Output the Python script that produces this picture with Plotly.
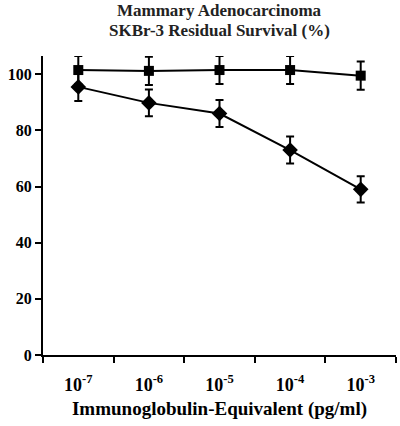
import plotly.graph_objects as go

categories = ["10<sup>-7</sup>", "10<sup>-6</sup>", "10<sup>-5</sup>", "10<sup>-4</sup>", "10<sup>-3</sup>"]
control_vals = [101.5, 101.2, 101.5, 101.5, 99.5]
control_err = [5.0, 5.0, 5.0, 5.0, 5.0]
treated_vals = [95.5, 89.8, 86.0, 73.0, 59.0]
treated_err = [5.0, 4.8, 4.8, 4.8, 4.7]
y_ticks = [0, 20, 40, 60, 80, 100]
title_lines = ["Mammary Adenocarcinoma", "SKBr-3 Residual Survival (%)"]

xpos = list(range(len(categories)))
font_fam = "Liberation Serif"

fig = go.Figure()
fig.add_trace(go.Scatter(
    x=xpos, y=control_vals, mode="lines+markers",
    line=dict(color="black", width=2),
    marker=dict(symbol="square", size=10, color="black"),
    error_y=dict(type="data", array=control_err, color="black", thickness=2, width=4),
))
fig.add_trace(go.Scatter(
    x=xpos, y=treated_vals, mode="lines+markers",
    line=dict(color="black", width=2),
    marker=dict(symbol="diamond", size=12, color="black"),
    error_y=dict(type="data", array=treated_err, color="black", thickness=2, width=4),
))

fig.update_layout(
    width=400, height=426,
    margin=dict(l=43, r=4, t=56, b=71, autoexpand=False),
    paper_bgcolor="white", plot_bgcolor="white",
    showlegend=False,
    font=dict(family=font_fam, color="black"),
)
for txt, yy in zip(title_lines, [10, 30]):
    fig.add_annotation(
        text="<b>%s</b>" % txt, xref="paper", yref="paper",
        x=0.5, y=1, xanchor="center", yanchor="middle",
        yshift=56 - yy, showarrow=False,
        font=dict(size=17, family=font_fam, color="#222"),
    )
fig.update_xaxes(
    range=[-0.5, len(categories) - 0.5], automargin=False,
    tickvals=xpos, ticktext=["<b>%s</b>" % c for c in categories],
    ticks="", showgrid=False, zeroline=False,
    showline=True, linecolor="black", linewidth=2,
    tickfont=dict(size=18, family=font_fam, color="black"),
    ticklabelstandoff=12,
    minor=dict(ticks="outside", tickvals=[i - 0.5 for i in range(len(categories) + 1)],
               ticklen=6, tickwidth=2, tickcolor="black", showgrid=False),
    title=dict(text="<b>Immunoglobulin-Equivalent (pg/ml)</b>",
               font=dict(size=19, family=font_fam, color="black"), standoff=8),
)
fig.update_yaxes(
    range=[0, 106.5], automargin=False,
    tickvals=y_ticks, ticktext=["<b>%d</b>" % v for v in y_ticks],
    ticks="outside", ticklen=6, tickwidth=2, tickcolor="black",
    showgrid=False, zeroline=False,
    showline=True, linecolor="black", linewidth=2,
    tickfont=dict(size=16, family=font_fam, color="black"),
)
fig.write_html("out.html", config={"displayModeBar": False},
               post_script="document.body.style.margin='0';")
